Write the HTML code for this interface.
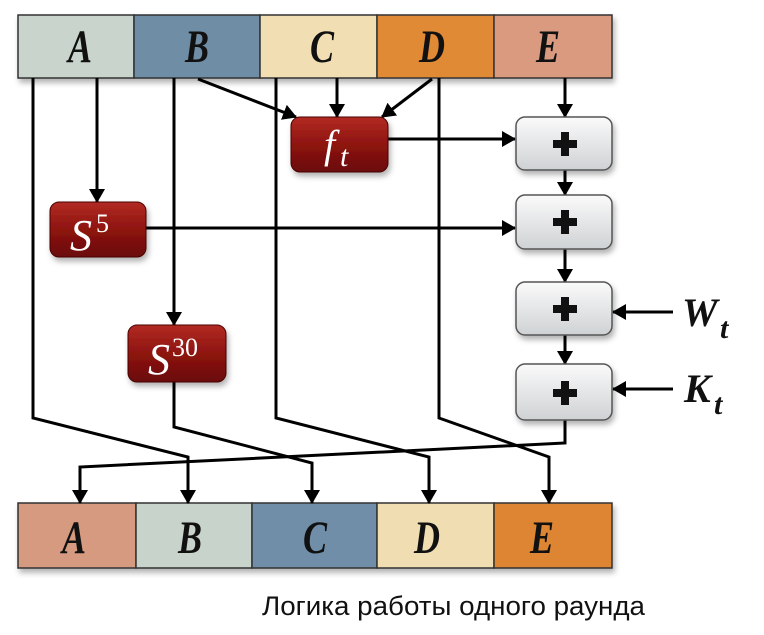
<!DOCTYPE html>
<html><head><meta charset="utf-8"><style>html,body{margin:0;padding:0;background:#fff}svg{display:block}</style></head>
<body>
<svg width="764" height="635" viewBox="0 0 764 635" xmlns="http://www.w3.org/2000/svg">
<defs>
<linearGradient id="red" x1="0" y1="0" x2="0" y2="1"><stop offset="0" stop-color="#b22a22"/><stop offset="0.5" stop-color="#8e1410"/><stop offset="1" stop-color="#6a0a08"/></linearGradient>
<linearGradient id="gr" x1="0" y1="0" x2="0" y2="1"><stop offset="0" stop-color="#fafafa"/><stop offset="1" stop-color="#cfd2d4"/></linearGradient>
<marker id="ah" markerWidth="14" markerHeight="16" refX="13" refY="8" orient="auto" markerUnits="userSpaceOnUse"><path d="M0,0 L14,8 L0,16 z" fill="#000"/></marker>
<filter id="sh" x="-10%" y="-10%" width="130%" height="140%"><feDropShadow dx="2" dy="4" stdDeviation="3" flood-color="#000" flood-opacity="0.3"/></filter>
</defs>

<g filter="url(#sh)" stroke="#333" stroke-width="1.5">
<rect x="18" y="15" width="116" height="63" fill="#c9d5cc"/>
<rect x="134" y="15" width="126" height="63" fill="#6f8da6"/>
<rect x="260" y="15" width="117" height="63" fill="#f1dfb3"/>
<rect x="377" y="15" width="117" height="63" fill="#e08a36"/>
<rect x="494" y="15" width="118" height="63" fill="#d99a80"/>
</g>
<g font-family="Liberation Serif, serif" font-weight="bold" font-style="italic" font-size="36" text-anchor="middle" fill="#111" transform="translate(0,62) scale(1,1.3)">
<text x="80" y="0">A</text><text x="197" y="0">B</text><text x="322" y="0">C</text><text x="432" y="0">D</text><text x="548" y="0">E</text>
</g>

<g filter="url(#sh)" stroke="#333" stroke-width="1.5">
<rect x="18" y="503" width="118" height="65" fill="#d59a80"/>
<rect x="136" y="503" width="116" height="65" fill="#c8d3cc"/>
<rect x="252" y="503" width="125" height="65" fill="#6f8ea8"/>
<rect x="377" y="503" width="117" height="65" fill="#f0ddb2"/>
<rect x="494" y="503" width="118" height="65" fill="#dd8530"/>
</g>
<g font-family="Liberation Serif, serif" font-weight="bold" font-style="italic" font-size="36" text-anchor="middle" fill="#111" transform="translate(0,553) scale(1,1.3)">
<text x="74" y="0">A</text><text x="190" y="0">B</text><text x="315" y="0">C</text><text x="427" y="0">D</text><text x="542" y="0">E</text>
</g>

<g stroke="#000" stroke-width="3" fill="none">
<line x1="97" y1="78" x2="97" y2="202" marker-end="url(#ah)"/>
<line x1="198" y1="79" x2="296" y2="117" marker-end="url(#ah)"/>
<line x1="337" y1="78" x2="337" y2="117" marker-end="url(#ah)"/>
<line x1="432" y1="79" x2="382" y2="117" marker-end="url(#ah)"/>
<line x1="565" y1="78" x2="565" y2="117" marker-end="url(#ah)"/>
<line x1="388" y1="139" x2="515" y2="139" marker-end="url(#ah)"/>
<line x1="146" y1="228" x2="515" y2="228" marker-end="url(#ah)"/>
<line x1="565" y1="170" x2="565" y2="195" marker-end="url(#ah)"/>
<line x1="565" y1="249" x2="565" y2="282" marker-end="url(#ah)"/>
<line x1="565" y1="335" x2="565" y2="364" marker-end="url(#ah)"/>
<line x1="673" y1="312" x2="613" y2="312" marker-end="url(#ah)"/>
<line x1="673" y1="389" x2="613" y2="389" marker-end="url(#ah)"/>
<line x1="174" y1="78" x2="174" y2="325" marker-end="url(#ah)"/>
<polyline points="33,78 33,418 188,457 188,503" marker-end="url(#ah)"/>
<polyline points="174,382 174,427 312,463 312,503" marker-end="url(#ah)"/>
<polyline points="276,78 276,418 429,457 429,503" marker-end="url(#ah)"/>
<polyline points="439,78 439,418 549,457 549,503" marker-end="url(#ah)"/>
<polyline points="565,420 565,443 80,467 80,503" marker-end="url(#ah)"/>
</g>

<g filter="url(#sh)" stroke="#4a0606" stroke-width="1">
<rect x="291" y="117" width="97" height="55" rx="9" fill="url(#red)"/>
<rect x="50" y="202" width="96" height="55" rx="9" fill="url(#red)"/>
<rect x="128" y="325" width="98" height="57" rx="9" fill="url(#red)"/>
</g>
<g font-family="Liberation Serif, serif" font-style="italic" fill="#fff">
<text x="324" y="158" font-size="40">f</text><text x="340" y="166" font-size="30">t</text>
<text x="70" y="250" font-size="44">S</text><text x="96" y="232" font-size="26" font-style="normal">5</text>
<text x="148" y="374" font-size="44">S</text><text x="172" y="356" font-size="26" font-style="normal">30</text>
</g>

<g filter="url(#sh)" stroke="#555" stroke-width="1.5" fill="url(#gr)">
<rect x="516" y="117" width="96" height="53" rx="9"/>
<rect x="516" y="195" width="96" height="54" rx="9"/>
<rect x="516" y="282" width="96" height="53" rx="9"/>
<rect x="516" y="364" width="96" height="56" rx="9"/>
</g>
<g fill="#111">
<rect x="561" y="132" width="8" height="24"/><rect x="553" y="140" width="24" height="8"/>
<rect x="561" y="210" width="8" height="24"/><rect x="553" y="218" width="24" height="8"/>
<rect x="561" y="297" width="8" height="24"/><rect x="553" y="305" width="24" height="8"/>
<rect x="561" y="381" width="8" height="24"/><rect x="553" y="389" width="24" height="8"/>
</g>

<g font-family="Liberation Serif, serif" font-weight="bold" font-style="italic" fill="#111">
<text x="682" y="326" font-size="40">W</text><text x="720" y="338" font-size="30">t</text>
<text x="684" y="402" font-size="40">K</text><text x="714" y="414" font-size="30">t</text>
</g>

<text x="262" y="615" font-family="Liberation Sans, sans-serif" font-size="27" fill="#111" textLength="383" lengthAdjust="spacingAndGlyphs">Логика работы одного раунда</text>
</svg>
</body></html>
